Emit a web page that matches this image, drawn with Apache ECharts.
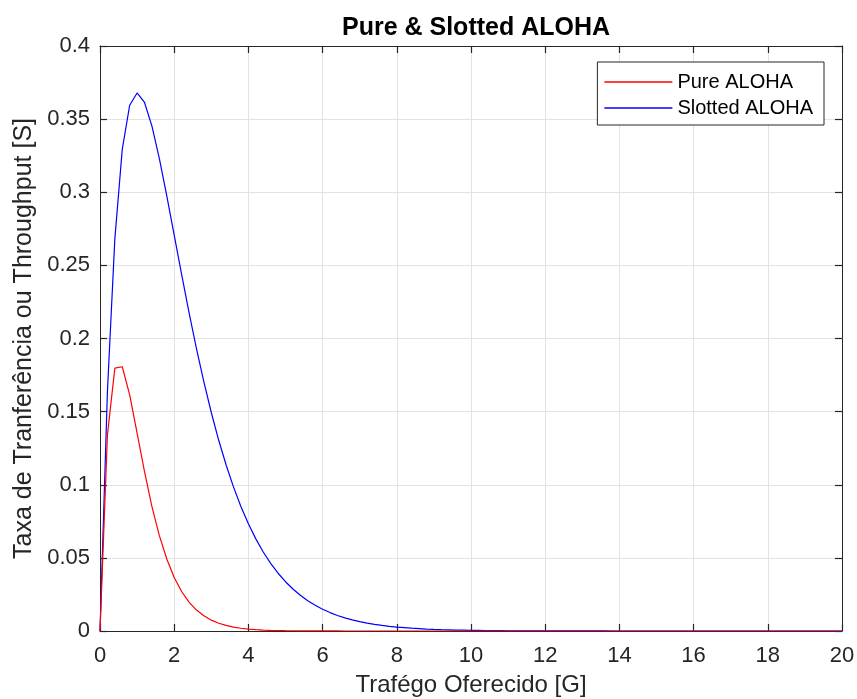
<!DOCTYPE html>
<html><head><meta charset="utf-8">
<script src="https://cdn.jsdelivr.net/npm/echarts@6/dist/echarts.min.js"></script>
<style>html,body{margin:0;padding:0;background:#fff}#c{width:857px;height:699px}</style>
</head><body><div id="c"></div>
<script>
const xStep = 0.2;
const pureAloha = [0,0.1341,0.1797,0.1807,0.1615,0.1353,0.1089,0.0851,0.0652,0.0492,
0.0366,0.0270,0.0198,0.0143,0.0104,0.0074,0.0053,0.0038,0.0027,0.0019,
0.0013,0.00094,0.00066,0.00047,0.00033,0.00023,0.00016,0.00011,0.00008,0.00005,
0.00004,0.00003,0.00002,0.00001,0.00001,0,0,0,0,0,
0,0,0,0,0,0,0,0,0,0,
0,0,0,0,0,0,0,0,0,0,
0,0,0,0,0,0,0,0,0,0,
0,0,0,0,0,0,0,0,0,0,
0,0,0,0,0,0,0,0,0,0,
0,0,0,0,0,0,0,0,0,0,0];
const slottedAloha = [0,0.1637,0.2681,0.3293,0.3595,0.3679,0.3614,0.3452,0.3230,0.2975,
0.2707,0.2438,0.2177,0.1931,0.1703,0.1494,0.1304,0.1135,0.0984,0.0850,
0.0733,0.0630,0.0540,0.0462,0.0395,0.0337,0.0287,0.0244,0.0207,0.0176,
0.0149,0.0126,0.0106,0.0090,0.0076,0.0064,0.0054,0.0045,0.0038,0.0032,
0.0027,0.0023,0.0019,0.0016,0.0013,0.0011,0.00093,0.00078,0.00065,0.00054,
0.00045,0.00038,0.00032,0.00026,0.00022,0.00018,0.00015,0.00013,0.00011,0.00009,
0.00007,0.00006,0.00005,0.00004,0.00004,0.00003,0.00002,0.00002,0.00002,0.00001,
0.00001,0.00001,0,0,0,0,0,0,0,0,
0,0,0,0,0,0,0,0,0,0,
0,0,0,0,0,0,0,0,0,0,0];
const xTicks = [0,2,4,6,8,10,12,14,16,18,20];
const yTicks = [0,0.05,0.1,0.15,0.2,0.25,0.3,0.35,0.4];

const pts = (arr) => arr.map((v,i) => [+(i*xStep).toFixed(1), v]);
const font = 'Liberation Sans';
const axisCol = '#262626';
const chart = echarts.init(document.getElementById('c'));
const baseX = {type:'value', min:xTicks[0], max:xTicks[xTicks.length-1], interval:xTicks[1]-xTicks[0],
  axisLine:{show:true,onZero:false,lineStyle:{color:axisCol,width:1}},
  axisTick:{show:true,inside:true,length:7,lineStyle:{color:axisCol,width:1.2}},
  splitLine:{show:false}};
const baseY = {type:'value', min:yTicks[0], max:yTicks[yTicks.length-1], interval:0.05,
  axisLine:{show:true,onZero:false,lineStyle:{color:axisCol,width:1}},
  axisTick:{show:true,inside:true,length:7,lineStyle:{color:axisCol,width:1.2}},
  splitLine:{show:false}};
chart.setOption({
  animation:false,
  backgroundColor:'#fff',
  title:{text:'Pure & Slotted ALOHA', left:471, textAlign:'center', top:11,
    textStyle:{fontFamily:font,fontSize:25,fontWeight:'bold',color:'#000'}},
  grid:{left:100, top:46, width:742, height:585, containLabel:false, outerBoundsMode:'none'},
  legend:{orient:'vertical', right:33, top:62, itemWidth:68, itemHeight:1.5, itemGap:6,
    icon:'rect',
    padding:[10,11,7,7], borderColor:'#262626', borderWidth:1, backgroundColor:'#fff',
    textStyle:{fontFamily:font,fontSize:20,color:'#000'},
    data:['Pure ALOHA','Slotted ALOHA']},
  xAxis:[
    Object.assign({}, baseX, {position:'bottom', name:'Trafégo Oferecido [G]', nameLocation:'middle', nameGap:42,
      nameTextStyle:{fontFamily:font,fontSize:24,color:axisCol},
      axisLabel:{fontFamily:font,fontSize:22,color:axisCol,margin:14},
      splitLine:{show:true,lineStyle:{color:'#e3e3e3',width:1}}}),
    Object.assign({}, baseX, {position:'top', axisLabel:{show:false}})
  ],
  yAxis:[
    Object.assign({}, baseY, {position:'left', name:'Taxa de Tranferência ou Throughput [S]', nameLocation:'middle', nameGap:63,
      nameTextStyle:{fontFamily:font,fontSize:25,color:axisCol},
      axisLabel:{fontFamily:font,fontSize:22,color:axisCol,margin:10,
        formatter:(v)=>String(+v.toFixed(2))},
      splitLine:{show:true,lineStyle:{color:'#e3e3e3',width:1}}}),
    Object.assign({}, baseY, {position:'right', axisLabel:{show:false}})
  ],
  series:[
    {name:'Pure ALOHA', type:'line', data:pts(pureAloha), symbol:'none', smooth:false,
      lineStyle:{color:'#ff0000',width:1.2}, itemStyle:{color:'#ff0000'}, z:3},
    {name:'Slotted ALOHA', type:'line', data:pts(slottedAloha), symbol:'none', smooth:false,
      lineStyle:{color:'#0000ff',width:1.2}, itemStyle:{color:'#0000ff'}, z:2}
  ]
});
</script></body></html>
